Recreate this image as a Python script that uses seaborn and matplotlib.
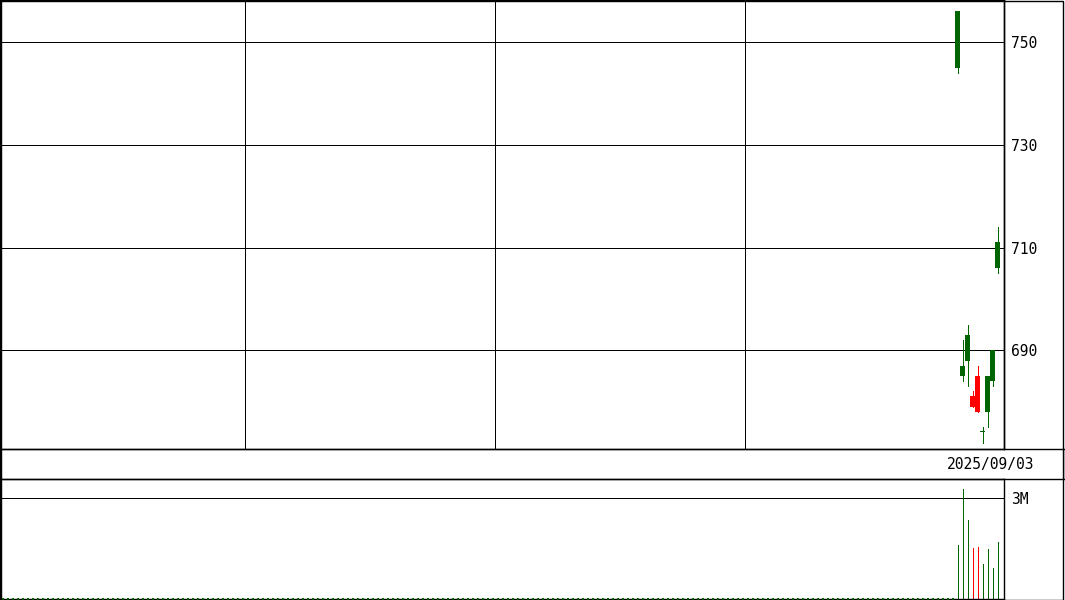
import matplotlib
matplotlib.use("Agg")
import matplotlib.pyplot as plt
import matplotlib.ticker as ticker
from matplotlib.patches import Rectangle
from matplotlib.lines import Line2D
import pandas as pd
import seaborn as sns

# daily candles (last 9 sessions), slot index on a 201-slot axis
slots = [191, 192, 193, 194, 195, 196, 197, 198, 199]
opens = [756, 687, 693, 679, 678, 674, 685, 690, 711]
highs = [756, 692, 695, 682, 687, 675, 685, 690, 714]
lows = [744, 684, 683, 679, 678, 672, 675, 683, 705]
closes = [745, 685, 688, 681, 685, 674, 678, 684, 706]
volumes = [1.60e6, 3.27e6, 2.35e6, 1.51e6, 1.54e6, 1.04e6, 1.49e6, 0.92e6, 1.69e6]

empty_slots = list(range(0, 191))
price_ticks = [690, 710, 730, 750]
vol_ticks = [3e6]
vol_tick_labels = ["3M"]
split_slots = [48.5, 98.5, 148.5]
date_label = "2025/09/03"

UP = "#ff0000"
DOWN = "#006400"
LW = 0.72  # one pixel at 100 dpi

W, H = 1065, 600
sns.set_theme(style="white")
plt.rcParams['font.family'] = ['DejaVu Sans Mono']

df = pd.DataFrame({"slot": slots, "open": opens, "high": highs,
                   "low": lows, "close": closes, "volume": volumes})
df["color"] = [UP if c > o else DOWN for o, c in zip(df.open, df.close)]

fig = plt.figure(figsize=(W / 100, H / 100), dpi=100)
fig.patch.set_facecolor("white")

ax = fig.add_axes([0, (H - 449) / H, 1004 / W, 449 / H])
dax = fig.add_axes([0, (H - 479) / H, 1, 30 / H])
vax = fig.add_axes([0, (H - 599) / H, 1004 / W, 120 / H])

xlim = (-0.5, 1004 / 5 - 0.5)

# price panel
for s in split_slots:
    ax.axvline(s, color="black", lw=LW, antialiased=False)
for p in price_ticks:
    ax.axhline(p, color="black", lw=LW, zorder=0, antialiased=False)
ax.vlines(df.slot, df.low, df.high, colors=df.color, lw=LW, zorder=3,
          antialiased=False)
body_lo = df[["open", "close"]].min(axis=1)
body_h = (df.open - df.close).abs().clip(lower=0.25)
ax.bar(df.slot, body_h, bottom=body_lo, width=1.0, color=df.color,
       linewidth=0, zorder=4, antialiased=False)
ax.set_xlim(*xlim)
ax.set_ylim(670.76, 758.23)
ax.yaxis.tick_right()
ax.set_yticks(price_ticks)
ax.set_xticks([])
ax.tick_params(axis="y", length=0, pad=5, labelsize=10.5, labelcolor="black")

# date strip
dax.set_xlim(0, W)
dax.set_ylim(0, 1)
dax.set_xticks([])
dax.set_yticks([])
dax.text(1034, 0.5, date_label, ha="right", va="center", fontsize=10.5,
         color="black")

# volume panel
for v in vol_ticks:
    vax.axhline(v, color="black", lw=LW, zorder=0, antialiased=False)
vax.vlines(df.slot, 0, df.volume, colors=df.color, lw=LW, antialiased=False)
sns.scatterplot(x=empty_slots, y=[0] * len(empty_slots), ax=vax, color=DOWN,
                marker="s", s=1.0, linewidth=0, clip_on=False, zorder=5)
vax.set_xlim(*xlim)
vax.set_ylim(0, 3e6 * 120 / 101)
vax.yaxis.tick_right()
vax.set_yticks(vol_ticks)
vax.set_yticklabels(vol_tick_labels)
vax.set_xticks([])
vax.tick_params(axis="y", length=0, pad=5, labelsize=10.5, labelcolor="black")
vax.yaxis.set_major_formatter(ticker.FixedFormatter(vol_tick_labels))

for a in (ax, dax, vax):
    for sp in a.spines.values():
        sp.set_color("black")
        sp.set_linewidth(LW * 1.4)
        sp.set_visible(True)
    a.set_facecolor("none")
    a.grid(False)

# outer frame
fig.add_artist(Rectangle((0.5 / W, 0.5 / H), 1062.5 / W, 599 / H,
                         transform=fig.transFigure, fill=False,
                         edgecolor="black", lw=LW * 1.4))
fig.add_artist(Line2D([1004 / W, 1004 / W], [(H - 449) / H, 1],
                      transform=fig.transFigure, color="black", lw=LW * 1.4))

fig.savefig("out.png", dpi=100)
